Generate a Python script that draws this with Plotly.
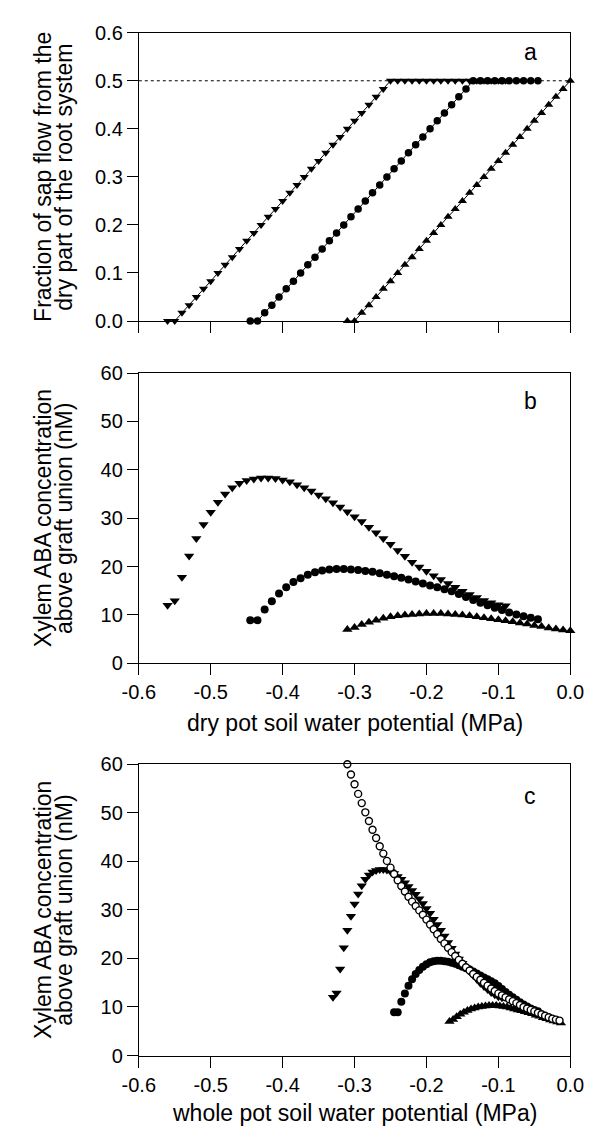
import plotly.graph_objects as go

# ---------------- data ----------------
# dry-pot soil water potential (MPa) for the three simulated series
x_dry_dn = [-0.56, -0.55, -0.54, -0.53, -0.52, -0.51, -0.50, -0.49, -0.48, -0.47, -0.46, -0.45,
            -0.44, -0.43, -0.42, -0.41, -0.40, -0.39, -0.38, -0.37, -0.36, -0.35, -0.34, -0.33,
            -0.32, -0.31, -0.30, -0.29, -0.28, -0.27, -0.26, -0.25, -0.24, -0.23, -0.22, -0.21,
            -0.20, -0.19, -0.18, -0.17, -0.16, -0.15, -0.14, -0.13, -0.12, -0.11, -0.10, -0.09]
x_dry_ci = [-0.445, -0.435, -0.425, -0.415, -0.405, -0.395, -0.385, -0.375, -0.365, -0.355,
            -0.345, -0.335, -0.325, -0.315, -0.305, -0.295, -0.285, -0.275, -0.265, -0.255,
            -0.245, -0.235, -0.225, -0.215, -0.205, -0.195, -0.185, -0.175, -0.165, -0.155,
            -0.145, -0.135, -0.125, -0.115, -0.105, -0.095, -0.085, -0.075, -0.065, -0.055, -0.045]
x_dry_up = [-0.31, -0.30, -0.29, -0.28, -0.27, -0.26, -0.25, -0.24, -0.23, -0.22, -0.21, -0.20,
            -0.19, -0.18, -0.17, -0.16, -0.15, -0.14, -0.13, -0.12, -0.11, -0.10, -0.09, -0.08,
            -0.07, -0.06, -0.05, -0.04, -0.03, -0.02, -0.01, 0.00]

# panel a: fraction of sap flow from the dry part of the root system
frac_dn = [0.0, 0.0, 0.017, 0.033, 0.050, 0.067, 0.083, 0.100, 0.117, 0.133, 0.150, 0.167,
           0.183, 0.200, 0.217, 0.233, 0.250, 0.267, 0.283, 0.300, 0.317, 0.333, 0.350, 0.367,
           0.383, 0.400, 0.417, 0.433, 0.450, 0.467, 0.483, 0.500, 0.5, 0.5, 0.5, 0.5,
           0.5, 0.5, 0.5, 0.5, 0.5, 0.5, 0.5, 0.5, 0.5, 0.5, 0.5, 0.5]
frac_ci = [0.0, 0.0, 0.017, 0.033, 0.050, 0.067, 0.083, 0.100, 0.117, 0.133, 0.150, 0.167,
           0.183, 0.200, 0.217, 0.233, 0.250, 0.267, 0.283, 0.300, 0.317, 0.333, 0.350, 0.367,
           0.383, 0.400, 0.417, 0.433, 0.450, 0.467, 0.483, 0.500, 0.5, 0.5, 0.5, 0.5,
           0.5, 0.5, 0.5, 0.5, 0.5]
frac_up = [0.0, 0.0, 0.017, 0.033, 0.050, 0.067, 0.083, 0.100, 0.117, 0.133, 0.150, 0.167,
           0.183, 0.200, 0.217, 0.233, 0.250, 0.267, 0.283, 0.300, 0.317, 0.333, 0.350, 0.367,
           0.383, 0.400, 0.417, 0.433, 0.450, 0.467, 0.483, 0.500]
frac_half = [0.5, 0.5]
x_half = [-0.6, 0.0]

# panels b and c: xylem ABA concentration above graft union (nM)
aba_dn = [12.0, 12.9, 17.8, 22.2, 25.8, 28.7, 31.2, 33.3, 35.0, 36.3, 37.2, 37.8,
          38.1, 38.3, 38.3, 38.2, 37.9, 37.5, 36.9, 36.3, 35.6, 34.8, 34.0, 33.2,
          32.3, 31.3, 30.3, 29.3, 28.1, 27.0, 25.8, 24.6, 23.3, 22.1, 20.9, 19.9,
          19.0, 18.1, 17.3, 16.5, 15.7, 14.9, 14.2, 13.6, 13.0, 12.5, 12.1, 11.9]
aba_ci = [8.9, 8.9, 11.1, 12.8, 14.4, 15.7, 16.8, 17.6, 18.3, 18.8, 19.2, 19.4, 19.5, 19.5,
          19.4, 19.3, 19.1, 18.9, 18.6, 18.3, 18.0, 17.7, 17.3, 16.9, 16.5, 16.1, 15.7, 15.3,
          14.9, 14.3, 13.7, 13.1, 12.5, 12.0, 11.5, 11.0, 10.5, 10.1, 9.7, 9.4, 9.1]
aba_up = [7.0, 7.4, 8.0, 8.5, 8.9, 9.3, 9.6, 9.8, 10.0, 10.1, 10.2, 10.3, 10.3, 10.3, 10.2, 10.1,
          10.0, 9.8, 9.6, 9.4, 9.2, 9.0, 8.8, 8.6, 8.3, 8.1, 7.8, 7.6, 7.3, 7.1, 6.9, 6.7]

# panel c: whole-pot soil water potential (MPa)
x_whole_dn = [-0.330, -0.325, -0.320, -0.315, -0.310, -0.305, -0.300, -0.295, -0.290, -0.285,
              -0.280, -0.275, -0.270, -0.265, -0.260, -0.255, -0.250, -0.245, -0.240, -0.235,
              -0.230, -0.225, -0.220, -0.215, -0.210, -0.205, -0.200, -0.195, -0.190, -0.185,
              -0.180, -0.175, -0.170, -0.165, -0.160, -0.155, -0.150, -0.145, -0.140, -0.135,
              -0.130, -0.125, -0.120, -0.115, -0.110, -0.105, -0.100, -0.095]
x_whole_ci = [-0.245, -0.240, -0.235, -0.230, -0.225, -0.220, -0.215, -0.210, -0.205, -0.200,
              -0.195, -0.190, -0.185, -0.180, -0.175, -0.170, -0.165, -0.160, -0.155, -0.150,
              -0.145, -0.140, -0.135, -0.130, -0.125, -0.120, -0.115, -0.110, -0.105, -0.100,
              -0.095, -0.090, -0.085, -0.080, -0.075, -0.070, -0.065, -0.060, -0.055, -0.050, -0.045]
x_whole_up = [-0.168, -0.163, -0.158, -0.153, -0.148, -0.143, -0.138, -0.133, -0.128, -0.123,
              -0.118, -0.113, -0.108, -0.103, -0.098, -0.093, -0.088, -0.083, -0.078, -0.073,
              -0.068, -0.063, -0.058, -0.053, -0.048, -0.043, -0.038, -0.033, -0.028, -0.023,
              -0.018, -0.013]
x_whole_open = [-0.310, -0.305, -0.300, -0.295, -0.290, -0.285, -0.280, -0.275, -0.270, -0.265,
                -0.260, -0.255, -0.250, -0.245, -0.240, -0.235, -0.230, -0.225, -0.220, -0.215,
                -0.210, -0.205, -0.200, -0.195, -0.190, -0.185, -0.180, -0.175, -0.170, -0.165,
                -0.160, -0.155, -0.150, -0.145, -0.140, -0.135, -0.130, -0.125, -0.120, -0.115,
                -0.110, -0.105, -0.100, -0.095, -0.090, -0.085, -0.080, -0.075, -0.070, -0.065,
                -0.060, -0.055, -0.050, -0.045, -0.040, -0.035, -0.030, -0.025, -0.020, -0.015]
aba_open = [60.0, 57.9, 55.9, 53.9, 52.0, 50.1, 48.3, 46.5, 44.8, 43.1,
            41.6, 40.1, 38.7, 37.4, 36.1, 34.9, 33.8, 32.7, 31.7, 30.8,
            29.9, 29.0, 28.0, 27.0, 26.0, 25.0, 24.0, 23.1, 22.2, 21.3,
            20.5, 19.7, 18.9, 18.2, 17.5, 16.8, 16.2, 15.6, 15.0, 14.4,
            13.8, 13.3, 12.8, 12.4, 12.0, 11.6, 11.2, 10.8, 10.4, 10.0,
            9.7, 9.4, 9.1, 8.8, 8.5, 8.2, 7.9, 7.6, 7.4, 7.2]

# tick labels
x_tickvals = [-0.6, -0.5, -0.4, -0.3, -0.2, -0.1, 0.0]
x_ticktext = ["-0.6", "-0.5", "-0.4", "-0.3", "-0.2", "-0.1", "0.0"]
ya_tickvals = [0.0, 0.1, 0.2, 0.3, 0.4, 0.5, 0.6]
ya_ticktext = ["0.0", "0.1", "0.2", "0.3", "0.4", "0.5", "0.6"]
yb_tickvals = [0, 10, 20, 30, 40, 50, 60]
yb_ticktext = ["0", "10", "20", "30", "40", "50", "60"]

# texts
ytitle_a = ["Fraction of sap flow from the", "dry part of the root system"]
ytitle_bc = ["Xylem ABA concentration", "above graft union (nM)"]
xtitle_b = "dry pot soil water potential (MPa)"
xtitle_c = "whole pot soil water potential (MPa)"
panel_letters = ["a", "b", "c"]

# ---------------- figure ----------------
W, H = 600, 1136
OFF = 8  # page body margin: figure is drawn 8 px right/down in the browser
FONT = "Liberation Sans, Arial, sans-serif"
TICK_SIZE = 20
TITLE_SIZE = 23
LETTER_SIZE = 23

# target positions in screen pixels
x_px = (128, 583)
panels_px = [(22, 316), (369, 665), (768, 1065)]


def px(p):
    return (p - OFF) / W


def py(p):
    return 1 - (p - OFF) / H


fig = go.Figure()
BLACK = "black"

# panel a
fig.add_trace(go.Scatter(x=x_half, y=frac_half, mode="lines",
                         line=dict(color=BLACK, width=1, dash="dot"),
                         xaxis="x", yaxis="y", showlegend=False, hoverinfo="skip"))
fig.add_trace(go.Scatter(x=x_dry_dn, y=frac_dn, mode="lines+markers",
                         line=dict(color=BLACK, width=1),
                         marker=dict(symbol="triangle-down", size=8, color=BLACK),
                         xaxis="x", yaxis="y", showlegend=False, cliponaxis=False))
fig.add_trace(go.Scatter(x=x_dry_ci, y=frac_ci, mode="lines+markers",
                         line=dict(color=BLACK, width=1),
                         marker=dict(symbol="circle", size=7.5, color=BLACK),
                         xaxis="x", yaxis="y", showlegend=False, cliponaxis=False))
fig.add_trace(go.Scatter(x=x_dry_up, y=frac_up, mode="lines+markers",
                         line=dict(color=BLACK, width=1),
                         marker=dict(symbol="triangle-up", size=8, color=BLACK),
                         xaxis="x", yaxis="y", showlegend=False, cliponaxis=False))

# panel b
fig.add_trace(go.Scatter(x=x_dry_dn, y=aba_dn, mode="markers",
                         marker=dict(symbol="triangle-down", size=9, color=BLACK),
                         xaxis="x2", yaxis="y2", showlegend=False, cliponaxis=False))
fig.add_trace(go.Scatter(x=x_dry_ci, y=aba_ci, mode="markers",
                         marker=dict(symbol="circle", size=8, color=BLACK),
                         xaxis="x2", yaxis="y2", showlegend=False, cliponaxis=False))
fig.add_trace(go.Scatter(x=x_dry_up, y=aba_up, mode="markers",
                         marker=dict(symbol="triangle-up", size=9, color=BLACK),
                         xaxis="x2", yaxis="y2", showlegend=False, cliponaxis=False))

# panel c
fig.add_trace(go.Scatter(x=x_whole_dn, y=aba_dn, mode="markers",
                         marker=dict(symbol="triangle-down", size=9, color=BLACK),
                         xaxis="x3", yaxis="y3", showlegend=False, cliponaxis=False))
fig.add_trace(go.Scatter(x=x_whole_ci, y=aba_ci, mode="markers",
                         marker=dict(symbol="circle", size=8, color=BLACK),
                         xaxis="x3", yaxis="y3", showlegend=False, cliponaxis=False))
fig.add_trace(go.Scatter(x=x_whole_up, y=aba_up, mode="markers",
                         marker=dict(symbol="triangle-up", size=9, color=BLACK),
                         xaxis="x3", yaxis="y3", showlegend=False, cliponaxis=False))
fig.add_trace(go.Scatter(x=x_whole_open, y=aba_open, mode="markers",
                         marker=dict(symbol="circle", size=7, color="white",
                                     line=dict(color=BLACK, width=1.4)),
                         xaxis="x3", yaxis="y3", showlegend=False, cliponaxis=False))

axis_common = dict(showline=True, linecolor=BLACK, linewidth=1, mirror=True,
                   ticks="outside", ticklen=11, tickwidth=1, tickcolor=BLACK,
                   showgrid=False, zeroline=False,
                   tickfont=dict(family=FONT, size=TICK_SIZE, color=BLACK))

xdom = [px(x_px[0]), px(x_px[1])]
layout = dict(width=W, height=H, margin=dict(l=0, r=0, t=0, b=0),
              paper_bgcolor="white", plot_bgcolor="white", showlegend=False,
              font=dict(family=FONT, color=BLACK))

names = [("xaxis", "yaxis", "y", "x"), ("xaxis2", "yaxis2", "y2", "x2"),
         ("xaxis3", "yaxis3", "y3", "x3")]
for i, (xa, ya, yanchor, xanchor) in enumerate(names):
    top, bot = panels_px[i]
    layout[xa] = dict(axis_common, domain=xdom, anchor=yanchor, range=[-0.6, 0.0],
                      tickvals=x_tickvals, ticktext=x_ticktext,
                      showticklabels=(i > 0))
    if i == 0:
        layout[ya] = dict(axis_common, domain=[py(bot), py(top)], anchor=xanchor,
                          range=[0, 0.6], tickvals=ya_tickvals, ticktext=ya_ticktext)
    else:
        layout[ya] = dict(axis_common, domain=[py(bot), py(top)], anchor=xanchor,
                          range=[0, 60], tickvals=yb_tickvals, ticktext=yb_ticktext)

fig.update_layout(**layout)

annotations = []
ytitles = [ytitle_a, ytitle_bc, ytitle_bc]
title_line_x = [27, 49]
letter_xy = [(541, 42), (541, 398), (540, 800)]
for i, (top, bot) in enumerate(panels_px):
    for j, line in enumerate(ytitles[i]):
        annotations.append(dict(text=line, xref="paper", yref="paper",
                                x=px(title_line_x[j]), y=py((top + bot) / 2),
                                xanchor="center", yanchor="middle",
                                textangle=-90, showarrow=False,
                                font=dict(family=FONT, size=TITLE_SIZE, color=BLACK)))
    lx, ly = letter_xy[i]
    annotations.append(dict(text=panel_letters[i], xref="paper", yref="paper",
                            x=px(lx), y=py(ly), xanchor="center", yanchor="middle",
                            showarrow=False, font=dict(family=FONT, size=LETTER_SIZE, color=BLACK)))
xmid = (x_px[0] + x_px[1]) / 2
annotations.append(dict(text=xtitle_b, xref="paper", yref="paper", x=px(xmid),
                        y=py(726), xanchor="center", yanchor="middle", showarrow=False,
                        font=dict(family=FONT, size=TITLE_SIZE, color=BLACK)))
annotations.append(dict(text=xtitle_c, xref="paper", yref="paper", x=px(xmid),
                        y=py(1124), xanchor="center", yanchor="middle", showarrow=False,
                        font=dict(family=FONT, size=TITLE_SIZE, color=BLACK)))
fig.update_layout(annotations=annotations)

fig.write_html("out.html")
